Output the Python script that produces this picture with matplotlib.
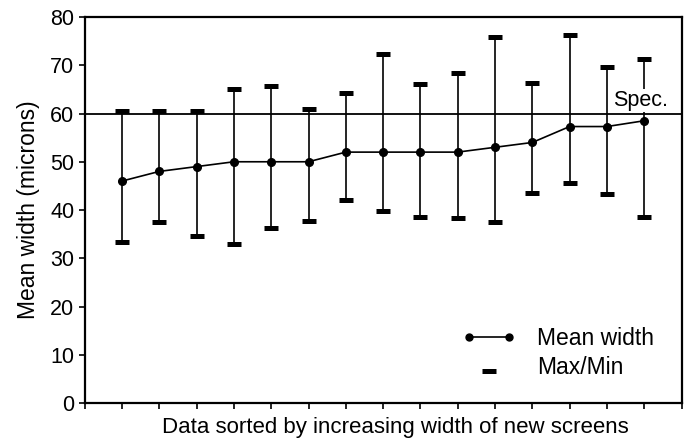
import matplotlib
matplotlib.use("Agg")
import numpy as np
import matplotlib.pyplot as plt
from matplotlib.lines import Line2D
from matplotlib.legend_handler import HandlerLine2D

plt.rcParams["font.family"] = ["Liberation Sans", "DejaVu Sans"]

# screens, sorted by increasing mean width
screen = list(range(1, 16))
mean_width = [46, 48, 49, 50, 50, 50, 52, 52, 52, 52, 53, 54, 57.3, 57.3, 58.5]
max_width = [60.5, 60.5, 60.5, 65, 65.8, 60.9, 64.3, 72.3, 66.1, 68.4, 75.9, 66.3, 76.3, 69.6, 71.2]
min_width = [33.4, 37.6, 34.6, 32.9, 36.2, 37.7, 42.1, 39.8, 38.5, 38.3, 37.5, 43.6, 45.7, 43.3, 38.5]
spec = 60


class LowCapHandler(HandlerLine2D):
    # the max/min key sits a little below its label in the original
    def create_artists(self, legend, orig_handle, xdescent, ydescent,
                       width, height, fontsize, trans):
        arts = super().create_artists(legend, orig_handle, xdescent, ydescent,
                                      width, height, fontsize, trans)
        for a in arts:
            a.set_ydata(np.asarray(a.get_ydata()) - 0.22 * fontsize)
        return arts


fig = plt.figure(figsize=(6.87, 4.42), dpi=100)
ax = fig.add_axes([0.1233, 0.0882, 0.8687, 0.8733])

ax.vlines(screen, min_width, max_width, color="black", linewidth=1.2)
ax.plot(screen, max_width, ls="none", marker="_", ms=10.5, mew=3.6, color="black")
ax.plot(screen, min_width, ls="none", marker="_", ms=10.5, mew=3.6, color="black")
ax.plot(screen, mean_width, "-o", color="black", lw=1.2, ms=5.5)

ax.axhline(spec, color="black", lw=1.3)
ax.text(15.65, spec + 0.5, "Spec.", ha="right", va="bottom", fontsize=15.5,
        bbox=dict(facecolor="white", edgecolor="none", pad=0.5), zorder=5)

ax.set_xlim(0, 16)
ax.set_ylim(0, 80)
ax.set_xticks(range(0, 17))
ax.set_xticklabels([])
ax.set_yticks(range(0, 81, 10))
ax.tick_params(direction="out", length=4.5, width=1.2, labelsize=15.5, pad=3)
for sp in ax.spines.values():
    sp.set_linewidth(1.6)

ax.set_xlabel("Data sorted by increasing width of new screens", fontsize=16)
ax.xaxis.set_label_coords(0.52, -0.036)
ax.set_ylabel("Mean width (microns)", fontsize=16.5, labelpad=7)

h_mean = Line2D([], [], color="black", lw=1.2, marker="o", ms=5)
h_cap = Line2D([], [], color="black", ls="none", marker="_", ms=10, mew=3.6)
ax.legend([h_mean, h_cap], ["Mean width", "Max/Min"], loc="upper left",
          bbox_to_anchor=(0.633, 0.197), frameon=False, fontsize=16.5,
          numpoints=2, handlelength=2.35, handletextpad=0.9, labelspacing=0.27,
          borderpad=0, borderaxespad=0,
          handler_map={h_cap: LowCapHandler(numpoints=1)})

fig.savefig("out.png", dpi=100)
